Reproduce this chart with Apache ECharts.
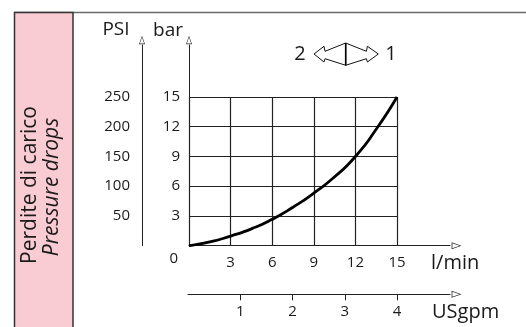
<!DOCTYPE html>
<html><head><meta charset="utf-8">
<script src="https://cdn.jsdelivr.net/npm/echarts@6/dist/echarts.min.js"></script>
<style>html,body{margin:0;padding:0;background:#fff}#c{width:526px;height:327px}</style>
</head><body><div id="c"></div>
<script>
// ---- data ----
const flowLpm = [0, 1.5, 3, 4.5, 6, 7.5, 9, 10.5, 12, 13.5, 15];
const dropBar = [0, 0.38, 0.97, 1.7, 2.66, 3.88, 5.3, 6.95, 9.0, 11.75, 15];
const lpmTicks = [3, 6, 9, 12, 15];
const barTicks = [0, 3, 6, 9, 12, 15];
const psiTicks = [50, 100, 150, 200, 250];
const usgpmTicks = [1, 2, 3, 4];
const titleIt = 'Perdite di carico';
const titleEn = 'Pressure drops';

const FONT = '"Open Sans", sans-serif';
const TXT = '#1a1a1a';
const LINE = '#222';
const hollowArrow = 'path://M5,0 L10,14 L0,14 Z M5,2.6 L1.4,12.9 L8.6,12.9 Z';

const chart = echarts.init(document.getElementById('c'), null, {renderer: 'canvas'});

const arrowLine = (size) => ({
  show: true,
  symbol: ['none', hollowArrow],
  symbolSize: size,
  symbolOffset: [0, size[1] / 2],
  lineStyle: {color: LINE, width: 1}
});

const option = {
  animation: false,
  textStyle: {fontFamily: FONT},
  grid: [
    {left: 189, top: 97, width: 208, height: 148.7},
    {left: 189, top: 45, width: 261, height: 200.7},
    {left: 188, top: 100, width: 262, height: 194.3}
  ],
  xAxis: [
    {gridIndex: 0, type: 'value', min: 0, max: 15, interval: 3,
     axisLine: {show: false}, axisTick: {show: false},
     splitLine: {show: true, lineStyle: {color: LINE, width: 1.2}},
     axisLabel: {customValues: lpmTicks, margin: 10, fontSize: 15, color: TXT, fontFamily: FONT}},
    {gridIndex: 1, type: 'value', min: 0, max: 18.8,
     axisLine: arrowLine([7, 13]), axisTick: {show: false}, axisLabel: {show: false}, splitLine: {show: false}},
    {gridIndex: 2, type: 'value', min: 0, max: 262 / 52.25,
     axisLine: arrowLine([7, 13]),
     axisTick: {show: true, customValues: usgpmTicks, length: 6, lineStyle: {color: LINE, width: 1}},
     axisLabel: {customValues: usgpmTicks, margin: 10, fontSize: 15, color: TXT, fontFamily: FONT},
     splitLine: {show: false}}
  ],
  yAxis: [
    {gridIndex: 0, type: 'value', min: 0, max: 15, interval: 3,
     axisLine: {show: false}, axisTick: {show: false},
     splitLine: {show: true, lineStyle: {color: LINE, width: 1.2}},
     axisLabel: {customValues: barTicks, margin: 9, fontSize: 15, color: TXT, fontFamily: FONT,
       formatter: v => v === 0 ? '{z|0}' : String(v),
       rich: {z: {fontSize: 15, color: TXT, fontFamily: FONT, padding: [27, 2, 0, 0]}}}},
    {gridIndex: 0, type: 'value', min: 0, max: 250, interval: 50, position: 'left', offset: 47,
     axisLine: {show: false}, axisTick: {show: false}, splitLine: {show: false},
     axisLabel: {customValues: psiTicks, margin: 12, fontSize: 15, color: TXT, fontFamily: FONT}},
    {gridIndex: 1, type: 'value', min: 0, max: 20,
     axisLine: arrowLine([6, 10]), axisTick: {show: false}, axisLabel: {show: false}, splitLine: {show: false}},
    {gridIndex: 1, type: 'value', min: 0, max: 20, position: 'left', offset: 47,
     axisLine: arrowLine([6, 10]), axisTick: {show: false}, axisLabel: {show: false}, splitLine: {show: false}},
    {gridIndex: 2, type: 'value', show: false}
  ],
  series: [{
    type: 'line', xAxisIndex: 0, yAxisIndex: 0,
    data: flowLpm.map((x, i) => [x, dropBar[i]]),
    smooth: 0.6, showSymbol: false, symbol: 'none',
    lineStyle: {color: '#000', width: 2.8}
  }],
  graphic: [
    {type: 'line', shape: {x1: 14, y1: 12.5, x2: 526, y2: 12.5}, style: {stroke: '#6a6a6a', lineWidth: 1.3}, z: 1},
    {type: 'rect', shape: {x: 14.5, y: 12.5, width: 58.5, height: 330}, style: {fill: '#f9ccd3', stroke: '#333', lineWidth: 1.5}, z: 2},
    {type: 'text', x: 30, y: 185, rotation: Math.PI / 2, z: 3,
     style: {text: titleIt, font: '21px "Open Sans"', fill: TXT, textAlign: 'center', textVerticalAlign: 'middle'}},
    {type: 'text', x: 52, y: 187, rotation: Math.PI / 2, z: 3,
     style: {text: titleEn, font: 'italic 21px "Open Sans"', fill: TXT, textAlign: 'center', textVerticalAlign: 'middle'}},
    {type: 'text', x: 116, y: 30, style: {text: 'PSI', font: '19px "Open Sans"', fill: TXT, textAlign: 'center', textVerticalAlign: 'middle'}},
    {type: 'text', x: 168, y: 31, style: {text: 'bar', font: '19px "Open Sans"', fill: TXT, textAlign: 'center', textVerticalAlign: 'middle'}},
    {type: 'text', x: 431, y: 263, style: {text: 'l/min', font: '20px "Open Sans"', fill: TXT, textAlign: 'left', textVerticalAlign: 'middle'}},
    {type: 'text', x: 432, y: 312, style: {text: 'USgpm', font: '20px "Open Sans"', fill: TXT, textAlign: 'left', textVerticalAlign: 'middle'}},
    {type: 'text', x: 300, y: 54, style: {text: '2', font: '20px "Open Sans"', fill: TXT, textAlign: 'center', textVerticalAlign: 'middle'}},
    {type: 'text', x: 391, y: 54, style: {text: '1', font: '20px "Open Sans"', fill: TXT, textAlign: 'center', textVerticalAlign: 'middle'}},
    {type: 'polygon', shape: {points: [[345.7,43],[325,51.3],[324,46.3],[314,54],[324,62],[325,58.7],[345.7,65.3]]},
     style: {fill: '#fff', stroke: '#111', lineWidth: 1}},
    {type: 'polygon', shape: {points: [[345.7,43],[366.4,51.3],[367.4,46.3],[378.3,54],[367.4,62],[366.4,58.7],[345.7,65.3]]},
     style: {fill: '#fff', stroke: '#111', lineWidth: 1}},
    {type: 'line', shape: {x1: 345.7, y1: 43, x2: 345.7, y2: 65.3}, style: {stroke: '#000', lineWidth: 1.6}}
  ]
};
chart.setOption(option);
</script></body></html>
